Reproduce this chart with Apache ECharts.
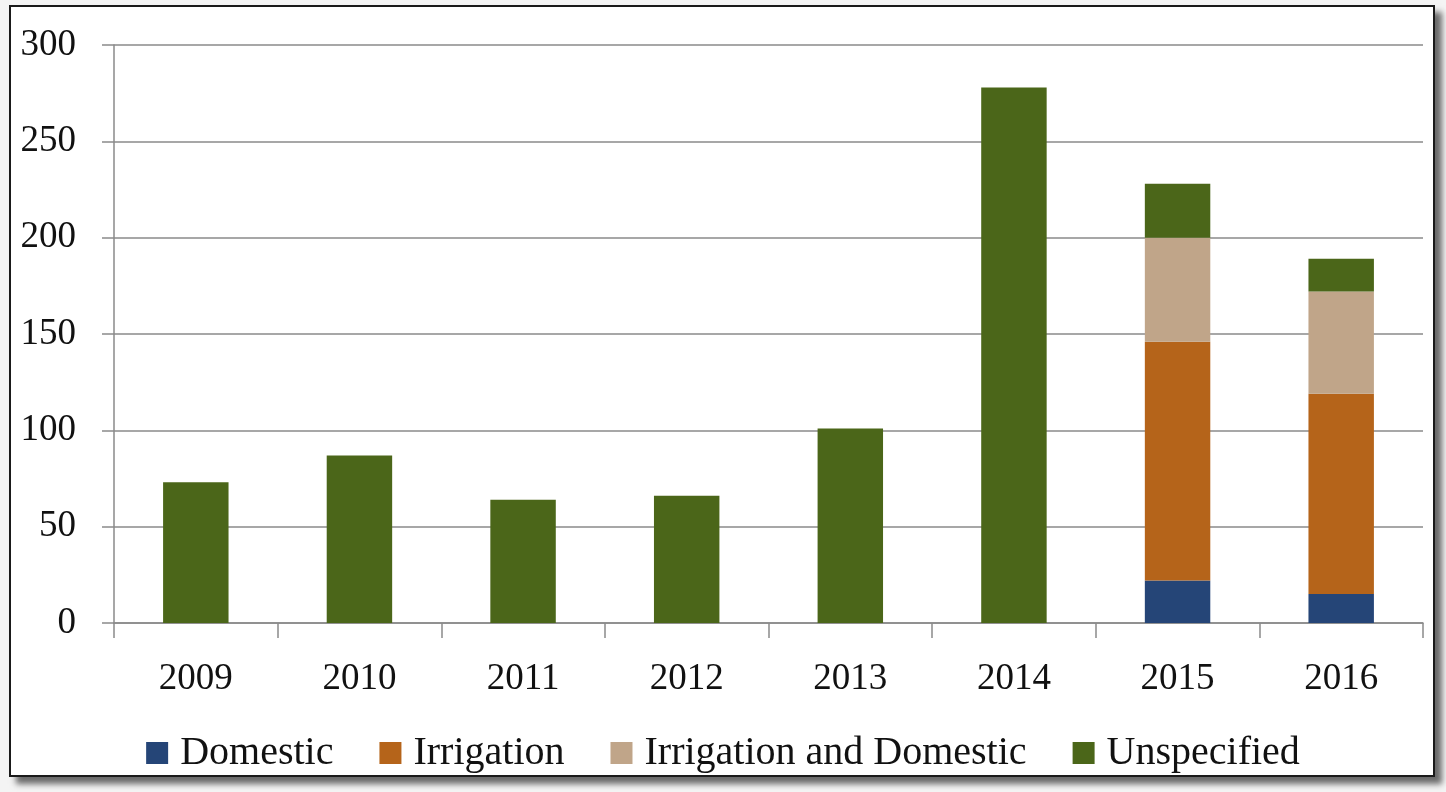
<!DOCTYPE html>
<html><head><meta charset="utf-8">
<script src="https://cdn.jsdelivr.net/npm/echarts@6/dist/echarts.min.js"></script>
<style>
html,body{margin:0;padding:0;background:#f4f4f4;width:1446px;height:792px;overflow:hidden;}
#frame{position:absolute;left:9px;top:5px;width:1422px;height:768px;border:2px solid #1a1a1a;background:#fff;box-shadow:7px 7px 6px #6a6a6a;}
#chart{position:absolute;left:0;top:0;width:1446px;height:792px;}
</style></head>
<body>
<div id="frame"></div>
<div id="chart"></div>
<script>
const categories = ['2009','2010','2011','2012','2013','2014','2015','2016'];
const domestic = [null,null,null,null,null,null,22,15];
const irrigation = [null,null,null,null,null,null,124,104];
const irrigationDomestic = [null,null,null,null,null,null,54,53];
const unspecified = [73,87,64,66,101,278,28,17];
const seriesNames = ['Domestic','Irrigation','Irrigation and Domestic','Unspecified'];
const colors = ['#254577','#b5641a','#c0a589','#4b6619'];

const font = '"Liberation Serif", "DejaVu Serif", serif';
const chart = echarts.init(document.getElementById('chart'), null, {renderer:'canvas'});
const dataSets = [domestic, irrigation, irrigationDomestic, unspecified];
chart.setOption({
  backgroundColor: 'transparent',
  animation: false,
  color: colors,
  grid: {left:114, right:23, top:45, bottom:169, containLabel:false},
  legend: {
    data: seriesNames, left:'center', top:728,
    itemWidth:22, itemHeight:22, itemGap:46,
    icon:'rect',
    textStyle:{fontFamily:font, fontSize:40, color:'#111', padding:[0,0,0,7]}
  },
  xAxis: {
    type:'category', data:categories,
    axisLine:{lineStyle:{color:'#8a8a8a', width:1.5}},
    axisTick:{show:true, length:15, lineStyle:{color:'#8a8a8a', width:1.5}},
    axisLabel:{fontFamily:font, fontSize:37, color:'#111', margin:38}
  },
  yAxis: {
    type:'value', min:0, max:300, interval:50,
    axisLine:{show:true, lineStyle:{color:'#8a8a8a', width:1.5}},
    axisTick:{show:true, length:12, lineStyle:{color:'#8a8a8a', width:1.5}},
    splitLine:{lineStyle:{color:'#8a8a8a', width:1.5}},
    axisLabel:{fontFamily:font, fontSize:37, color:'#111', margin:38}
  },
  series: seriesNames.map((n,i)=>({
    name:n, type:'bar', stack:'total', barWidth:'40%',
    data:dataSets[i], itemStyle:{color:colors[i]}
  }))
});
</script>
</body></html>
